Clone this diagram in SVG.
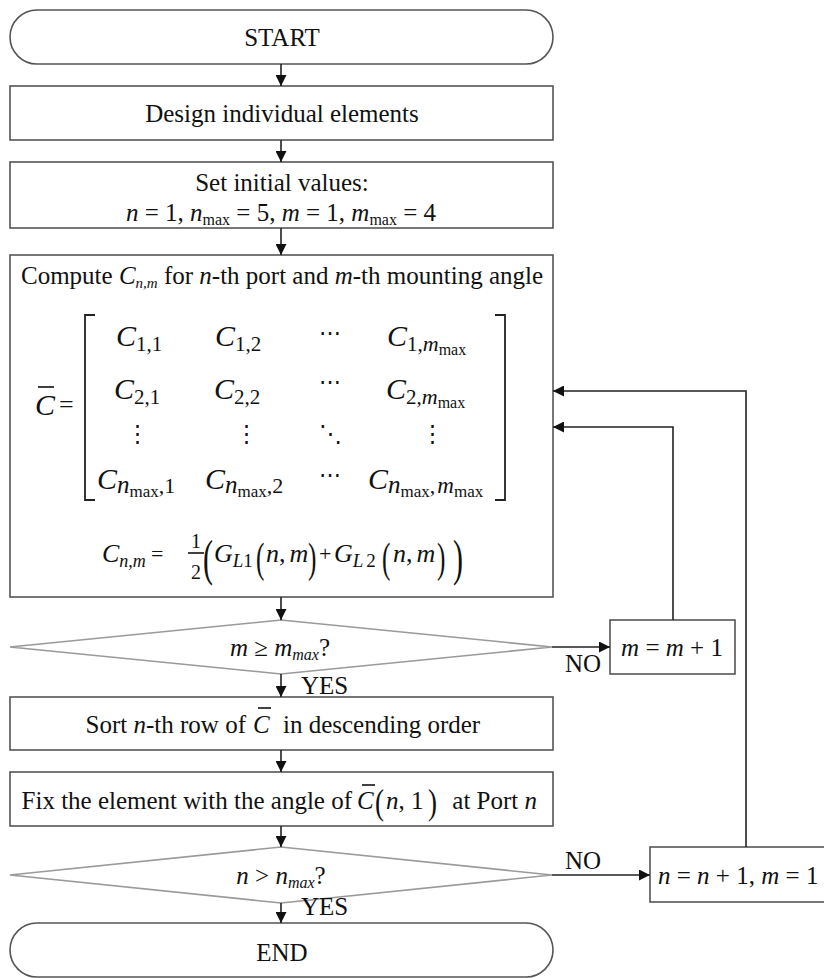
<svg xmlns="http://www.w3.org/2000/svg" width="824" height="978" viewBox="0 0 824 978">
<defs>
<marker id="ah" markerUnits="userSpaceOnUse" markerWidth="11" markerHeight="11" refX="11" refY="5.5" orient="auto">
<path d="M0,0 L11,5.5 L0,11 z" fill="#111"/>
</marker>
<style>
.box{fill:#fff;stroke:#555;stroke-width:1.6}
.dia{fill:#fff;stroke:#9a9a9a;stroke-width:1.6}
.t{font-family:"Liberation Serif","Times New Roman",serif;font-size:25px;fill:#111}
.c{text-anchor:middle}
.e{text-anchor:end}
.i{font-style:italic}
.m{font-family:"Liberation Serif","DejaVu Serif",serif;fill:#111}
.conn{fill:none;stroke:#222;stroke-width:1.6}
.ov{stroke:#111;stroke-width:1.6}
</style>
</defs>

<g id="start">
<rect class="box" x="10" y="10" width="543" height="54" rx="27"/>
<text class="t c" x="282" y="46">START</text>
</g>

<g id="design">
<rect class="box" x="10" y="86" width="543" height="54"/>
<text class="t c" x="282" y="122">Design individual elements</text>
</g>

<g id="init">
<rect class="box" x="10" y="162" width="543" height="66"/>
<text class="t c" x="282" y="191">Set initial values:</text>
<text class="t c" x="281" y="221"><tspan class="i">n</tspan> = 1, <tspan class="i">n</tspan><tspan font-size="16" dy="4">max</tspan><tspan dy="-4"> = 5, </tspan><tspan class="i">m</tspan> = 1, <tspan class="i">m</tspan><tspan font-size="16" dy="4">max</tspan><tspan dy="-4"> = 4</tspan></text>
</g>

<g id="compute">
<rect class="box" x="10" y="255" width="543" height="342"/>
<text class="t c" x="282" y="284">Compute <tspan class="i">C</tspan><tspan class="i" font-size="15" dy="4">n,m</tspan><tspan dy="-4"> for </tspan><tspan class="i">n</tspan>-th port and <tspan class="i">m</tspan>-th mounting angle</text>
<text class="m i" x="35" y="415" font-size="30">C</text>
<line class="ov" x1="38" y1="387" x2="54" y2="387"/>
<text class="m" x="59" y="413" font-size="26">=</text>
<path d="M95,315 H85 V500 H95" fill="none" stroke="#222" stroke-width="1.8"/>
<path d="M495,315 H505 V500 H495" fill="none" stroke="#222" stroke-width="1.8"/>
<text class="m" y="346" font-size="30"><tspan class="i" x="116">C</tspan><tspan font-size="21" dy="5">1,1</tspan></text>
<text class="m" y="346" font-size="30"><tspan class="i" x="215">C</tspan><tspan font-size="21" dy="5">1,2</tspan></text>
<text class="m" x="330" y="340" font-size="22" text-anchor="middle">⋯</text>
<text class="m" y="346" font-size="30"><tspan class="i" x="387">C</tspan><tspan font-size="21" dy="5">1,</tspan><tspan class="i" font-size="22">m</tspan><tspan font-size="16" dy="4">max</tspan></text>
<text class="m" y="399" font-size="30"><tspan class="i" x="114">C</tspan><tspan font-size="21" dy="5">2,1</tspan></text>
<text class="m" y="399" font-size="30"><tspan class="i" x="214">C</tspan><tspan font-size="21" dy="5">2,2</tspan></text>
<text class="m" x="330" y="389" font-size="22" text-anchor="middle">⋯</text>
<text class="m" y="399" font-size="30"><tspan class="i" x="386">C</tspan><tspan font-size="21" dy="5">2,</tspan><tspan class="i" font-size="22">m</tspan><tspan font-size="16" dy="4">max</tspan></text>
<text class="m" x="137" y="441" font-size="23" text-anchor="middle">⋮</text>
<text class="m" x="246" y="441" font-size="23" text-anchor="middle">⋮</text>
<text class="m" x="330" y="441" font-size="23" text-anchor="middle">⋱</text>
<text class="m" x="432" y="441" font-size="23" text-anchor="middle">⋮</text>
<text class="m" y="489" font-size="30"><tspan class="i" x="97">C</tspan><tspan class="i" font-size="25" dy="4">n</tspan><tspan font-size="17" dy="4">max</tspan><tspan font-size="22" dy="-4">,1</tspan></text>
<text class="m" y="489" font-size="30"><tspan class="i" x="205">C</tspan><tspan class="i" font-size="25" dy="4">n</tspan><tspan font-size="17" dy="4">max</tspan><tspan font-size="22" dy="-4">,2</tspan></text>
<text class="m" x="330" y="482" font-size="22" text-anchor="middle">⋯</text>
<text class="m" y="489" font-size="30"><tspan class="i" x="368">C</tspan><tspan class="i" font-size="25" dy="4">n</tspan><tspan font-size="17" dy="4">max</tspan><tspan font-size="22" dy="-4">,</tspan><tspan class="i" font-size="23" dx="2">m</tspan><tspan font-size="17" dy="4">max</tspan></text>
<text class="m" y="562" font-size="26"><tspan class="i" x="102">C</tspan><tspan class="i" font-size="18" dy="5">n,m</tspan></text>
<text class="m" x="151" y="561" font-size="22">=</text>
<text class="m" x="196" y="548" font-size="20" text-anchor="middle">1</text>
<line class="ov" x1="188" y1="553" x2="204" y2="553" stroke-width="1.3"/>
<text class="m" x="196" y="579" font-size="20" text-anchor="middle">2</text>
<text class="m" x="0" y="0" font-size="50" transform="translate(203,575) scale(0.6,1)">(</text>
<text class="m" y="562" font-size="26"><tspan class="i" x="214">G</tspan><tspan class="i" font-size="19" dy="5">L</tspan><tspan font-size="19">1</tspan></text>
<text class="m" x="0" y="0" font-size="42" transform="translate(256,572) scale(0.6,1)">(</text>
<text class="m" y="562" font-size="26"><tspan class="i" x="266">n</tspan>,<tspan class="i" dx="4">m</tspan></text>
<text class="m" x="0" y="0" font-size="42" transform="translate(308,572) scale(0.6,1)">)</text>
<text class="m" x="319" y="561" font-size="22">+</text>
<text class="m" y="562" font-size="26"><tspan class="i" x="334">G</tspan><tspan class="i" font-size="19" dy="5">L</tspan><tspan font-size="19" dx="3">2</tspan></text>
<text class="m" x="0" y="0" font-size="42" transform="translate(382,572) scale(0.6,1)">(</text>
<text class="m" y="562" font-size="26"><tspan class="i" x="393">n</tspan>,<tspan class="i" dx="4">m</tspan></text>
<text class="m" x="0" y="0" font-size="42" transform="translate(437,572) scale(0.6,1)">)</text>
<text class="m" x="0" y="0" font-size="50" transform="translate(453,575) scale(0.6,1)">)</text>
</g>

<g id="check-m">
<polygon class="dia" points="10,647 281,620 552,647 281,674"/>
<text class="t c" x="280" y="656"><tspan class="i">m</tspan>  ≥ <tspan class="i">m</tspan><tspan class="i" font-size="16" dy="4">max</tspan><tspan dy="-4">?</tspan></text>
</g>

<g id="inc-m">
<rect class="box" x="610" y="620" width="125" height="54"/>
<text class="t c" x="672" y="656"><tspan class="i">m</tspan> = <tspan class="i">m</tspan> + 1</text>
</g>

<g id="sort">
<rect class="box" x="10" y="697" width="543" height="53"/>
<text class="t e" x="246" y="733">Sort <tspan class="i">n</tspan>-th row of</text>
<text class="t i" x="253" y="733">C</text>
<line class="ov" x1="258" y1="708" x2="271" y2="708"/>
<text class="t" x="283" y="733">in descending order</text>
</g>

<g id="fix">
<rect class="box" x="10" y="772" width="543" height="54"/>
<text class="t e" x="352" y="809">Fix the element with the angle of</text>
<text class="t i" x="357" y="809">C</text>
<line class="ov" x1="362" y1="785" x2="375" y2="785"/>
<text class="m" x="0" y="0" font-size="36" transform="translate(375,814) scale(0.75,1)">(</text>
<text class="t" x="386" y="809"><tspan class="i">n</tspan>, 1</text>
<text class="m" x="0" y="0" font-size="36" transform="translate(428,814) scale(0.75,1)">)</text>
<text class="t e" x="537" y="809">at Port <tspan class="i">n</tspan></text>
</g>

<g id="check-n">
<polygon class="dia" points="10,875 281,847 552,875 281,903"/>
<text class="t c" x="281" y="884"><tspan class="i">n</tspan> &gt; <tspan class="i">n</tspan><tspan class="i" font-size="16" dy="4">max</tspan><tspan dy="-4">?</tspan></text>
</g>

<g id="inc-n">
<rect class="box" x="650" y="847" width="180" height="55"/>
<text class="t" x="658" y="884"><tspan class="i">n</tspan> = <tspan class="i">n</tspan> + 1, <tspan class="i">m</tspan> = 1</text>
</g>

<g id="end">
<rect class="box" x="10" y="923" width="543" height="54" rx="27"/>
<text class="t c" x="282" y="961">END</text>
</g>

<g id="connectors">
<path class="conn" d="M281,64 V86" marker-end="url(#ah)"/>
<path class="conn" d="M281,140 V162" marker-end="url(#ah)"/>
<path class="conn" d="M281,228 V255" marker-end="url(#ah)"/>
<path class="conn" d="M281,597 V620" marker-end="url(#ah)"/>
<path class="conn" d="M281,674 V697" marker-end="url(#ah)"/>
<path class="conn" d="M281,750 V772" marker-end="url(#ah)"/>
<path class="conn" d="M281,826 V847" marker-end="url(#ah)"/>
<path class="conn" d="M281,903 V923" marker-end="url(#ah)"/>
<path class="conn" d="M552,647 H610" marker-end="url(#ah)"/>
<path class="conn" d="M552,875 H650" marker-end="url(#ah)"/>
<path class="conn" d="M673,620 V427 H553" marker-end="url(#ah)"/>
<path class="conn" d="M746,847 V391 H553" marker-end="url(#ah)"/>
<text class="t" x="301" y="694">YES</text>
<text class="t" x="565" y="672">NO</text>
<text class="t" x="301" y="915">YES</text>
<text class="t" x="565" y="869">NO</text>
</g>
</svg>
